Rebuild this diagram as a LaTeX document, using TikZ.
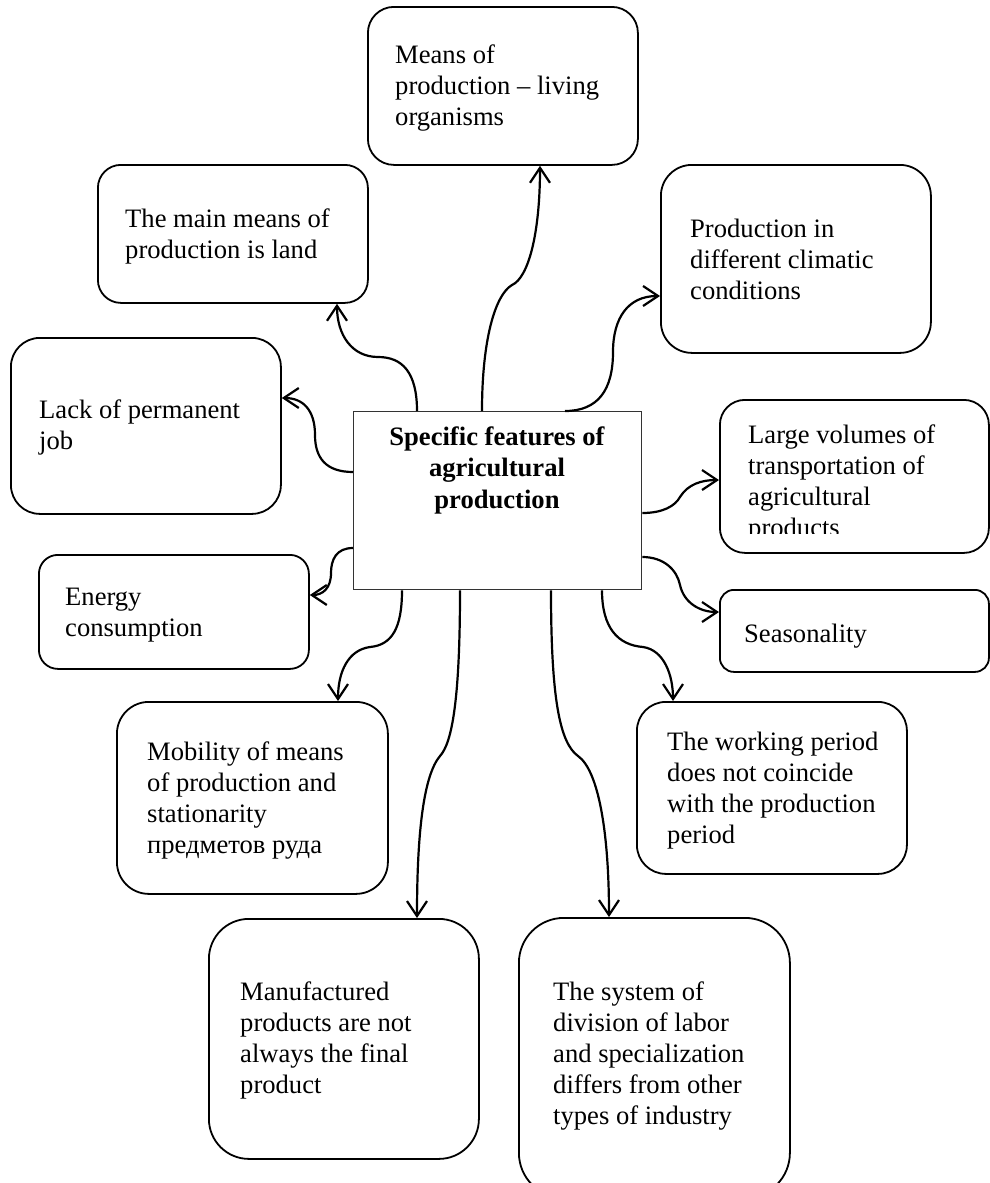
\documentclass[tikz,border=0pt]{standalone}
\usepackage{fontspec}
\setmainfont{Liberation Serif}
\usetikzlibrary{arrows.meta}

% left-aligned block of lines whose baseline is the first line
\newcommand\txtlines[1]{\begin{tabular}[t]{@{}l@{}}#1\end{tabular}}
\newcommand\ctrlines[1]{\begin{tabular}[t]{@{}c@{}}#1\end{tabular}}

\tikzset{
  card/.style={draw=black, line width=1.8pt, rounded corners=#1, anchor=north west,
               inner sep=0pt, fill=white},
  hub/.style={draw=black!80, line width=1.3pt, anchor=north west, inner sep=0pt, fill=white},
  txt/.style={anchor=base west, inner sep=0pt},
  link/.style={line width=2.2pt, -{Straight Barb[length=15pt,width=20pt]}},
  every node/.style={font=\fontsize{26.6}{31}\selectfont},
}

\begin{document}
\begin{tikzpicture}[x=1pt, y=-1pt]
\useasboundingbox (0,0) rectangle (990,1183);
\clip (0,0) rectangle (990,1183);

% central box
\node[hub, minimum width=288, minimum height=178] (c) at (353,411) {};
\node[anchor=base, inner sep=0pt, font=\fontsize{26.6}{31.5}\selectfont\bfseries] (ct) at (497,445)
  {\ctrlines{Specific features of\\agricultural\\production}};

% surrounding feature boxes
\node[card=26, minimum width=270, minimum height=158] (m1) at (367,6) {};
\node[txt] (m1t) at (395,63) {\txtlines{Means of\\production – living\\organisms}};

\node[card=23, minimum width=270, minimum height=138] (m2) at (97,164) {};
\node[txt] (m2t) at (125,227) {\txtlines{The main means of\\production is land}};

\node[card=31, minimum width=270, minimum height=188] (m3) at (660,164) {};
\node[txt] (m3t) at (690,237) {\txtlines{Production in\\different climatic\\conditions}};

\node[card=29, minimum width=270, minimum height=176] (m4) at (10,337) {};
\node[txt] (m4t) at (39,418) {\txtlines{Lack of permanent\\job}};

\node[card=25, minimum width=269, minimum height=153] (m6) at (719,399) {};
\begin{scope}
  \clip (719,399) rectangle (988,533);
  \node[txt] (m6t) at (748,443) {\txtlines{Large volumes of\\transportation of\\agricultural\\products}};
\end{scope}

\node[card=19, minimum width=270, minimum height=114] (m5) at (38,554) {};
\node[txt] (m5t) at (65,605) {\txtlines{Energy\\consumption}};

\node[card=14, minimum width=269, minimum height=82] (m8) at (719,589) {};
\node[txt] (m8t) at (744,642) {Seasonality};

\node[card=32, minimum width=271, minimum height=192] (m9) at (116,701) {};
\node[txt] (m9t) at (147,760) {\txtlines{Mobility of means\\of production and\\stationarity\\предметов руда}};

\node[card=29, minimum width=270, minimum height=172] (m10) at (636,701) {};
\node[txt] (m10t) at (667,750) {\txtlines{The working period\\does not coincide\\with the production\\period}};

\node[card=40, minimum width=270, minimum height=240] (m11) at (208,918) {};
\node[txt] (m11t) at (240,1000) {\txtlines{Manufactured\\products are not\\always the final\\product}};

\node[card=45, minimum width=271, minimum height=280] (m12) at (518,917) {};
\node[txt] (m12t) at (553,1000) {\txtlines{The system of\\division of labor\\and specialization\\differs from other\\types of industry}};

% curved connectors from the central box
\draw[link] ([xshift=129]c.north west) .. controls (482,340) and (495,295) .. (512,285)
  .. controls (528,278) and (540,235) .. ([xshift=173]m1.south west);
\draw[link] ([xshift=64]c.north west) .. controls (417,372) and (402,357) .. (378,357)
  .. controls (352,357) and (337,335) .. ([xshift=240]m2.south west);
\draw[link] ([xshift=212]c.north west) .. controls (598,411) and (613,390) .. (613,352)
  .. controls (613,318) and (628,296) .. ([yshift=-132]m3.north west);
\draw[link] ([yshift=-61]c.north west) .. controls (326,472) and (315,458) .. (315,435)
  .. controls (315,410) and (303,398) .. ([yshift=-61]m4.north east);
\draw[link] ([yshift=-137]c.north west) .. controls (336,548) and (331,560) .. (331,573)
  .. controls (331,588) and (323,595) .. ([yshift=-41]m5.north east);
\draw[link] ([xshift=49]c.south west) .. controls (402,628) and (392,645) .. (370,647)
  .. controls (348,650) and (338,672) .. ([xshift=222]m9.north west);
\draw[link] ([xshift=107]c.south west) .. controls (460,700) and (452,743) .. (440,756)
  .. controls (424,775) and (417,830) .. ([xshift=209]m11.north west);
\draw[link] ([xshift=198]c.south west) .. controls (551,700) and (560,743) .. (578,756)
  .. controls (598,770) and (609,830) .. ([xshift=91]m12.north west);
\draw[link] ([xshift=249]c.south west) .. controls (602,628) and (618,645) .. (643,647)
  .. controls (664,650) and (673,675) .. ([xshift=37]m10.north west);
\draw[link] ([yshift=-146]c.north east) .. controls (664,557) and (677,570) .. (680,585)
  .. controls (684,603) and (700,612) .. ([yshift=-23]m8.north west);
\draw[link] ([yshift=-102]c.north east) .. controls (663,513) and (675,506) .. (680,497)
  .. controls (688,484) and (702,480) .. ([yshift=-81]m6.north west);
\end{tikzpicture}
\end{document}
